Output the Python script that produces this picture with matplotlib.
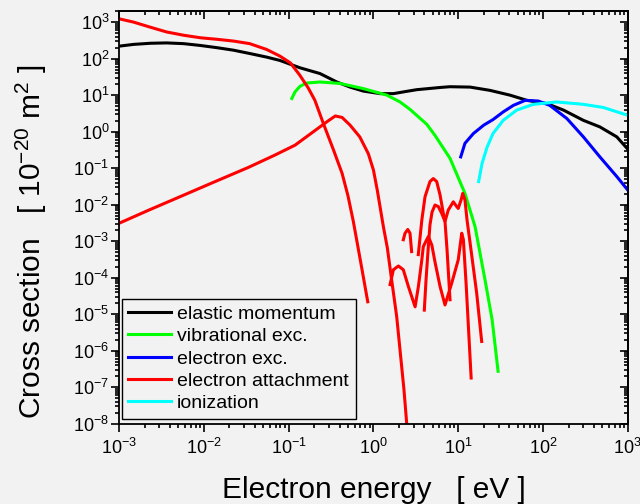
import matplotlib
matplotlib.use('Agg')
import matplotlib.pyplot as plt
from matplotlib.ticker import LogLocator, NullFormatter

plt.rcParams['font.family'] = ['Liberation Sans', 'DejaVu Sans']
plt.rcParams['mathtext.fontset'] = 'custom'
plt.rcParams['mathtext.rm'] = 'Liberation Sans'
plt.rcParams['mathtext.it'] = 'Liberation Sans:italic'
plt.rcParams['mathtext.bf'] = 'Liberation Sans:bold'

# Cross sections in units of 1e-20 m^2 versus electron energy in eV
elastic_E = [1e-3, 1.48e-3, 2.34e-3, 3.63e-3, 5.75e-3, 9.1e-3, 0.0141, 0.0224, 0.0347,
             0.055, 0.079, 0.136, 0.234, 0.37, 0.53, 0.76, 1.2, 1.72, 2.57, 3.24, 6.1,
             8.0, 13.8, 23.7, 40.7, 64.6, 110, 174, 299, 468, 741, 1000]
elastic_sigma = [219, 245, 263, 269, 257, 229, 200, 170, 138,
                 110, 89, 56, 39, 22.9, 16.6, 12.9, 11.0, 11.0, 12.9, 14.1, 16.2,
                 17.0, 16.6, 13.5, 10, 7.2, 5.9, 3.9, 2.04, 1.35, 0.72, 0.33]

vib_E = [0.109, 0.119, 0.136, 0.162, 0.234, 0.404, 0.76, 1.44, 2.06, 2.69, 4.27,
         5.32, 8.0, 12.0, 15.8, 20.7, 25.1, 29.5]
vib_sigma = [8.1, 12.3, 17.4, 21.4, 22.9, 20.9, 15.1, 10, 6.5, 4.1, 1.58,
             0.79, 0.186, 0.0204, 2.5e-3, 8.7e-5, 7.1e-6, 2.75e-7]

exc_E = [10.7, 12.0, 15.1, 20, 25.7, 33.9, 44.7, 61.7, 88, 120, 191, 299, 468, 741, 1000]
exc_sigma = [0.204, 0.48, 0.89, 1.51, 2.14, 3.47, 5.25, 7.2, 6.9, 5.25, 2.29, 0.72,
             0.204, 0.059, 0.025]

ion_E = [17.4, 19.1, 21.9, 25.7, 33.9, 49, 76.9, 145, 299, 513, 1000]
ion_sigma = [0.043, 0.135, 0.38, 0.89, 2.04, 3.9, 5.6, 6.5, 5.6, 4.6, 2.8]

# attachment channels (several separate branches)
att1_E = [1e-3, 1.48e-3, 2.34e-3, 3.63e-3, 5.75e-3, 9.1e-3, 0.0141, 0.0224, 0.0347,
          0.055, 0.079, 0.105, 0.135, 0.17, 0.204, 0.257, 0.339, 0.427, 0.50, 0.579,
          0.705, 0.857]
att1_sigma = [1230, 1000, 724, 537, 437, 372, 339, 302, 257,
              178, 117, 76, 35.5, 15.8, 7.2, 1.66, 0.31, 0.072, 0.0178, 3.5e-3,
              2.8e-4, 2.2e-5]

att2_E = [1e-3, 2.24e-3, 5.5e-3, 0.0135, 0.0335, 0.069, 0.119, 0.195, 0.282, 0.355,
          0.427, 0.53, 0.69, 0.87, 1.0, 1.11, 1.31, 1.46, 1.64, 1.88, 2.29, 2.51]
att2_sigma = [3.1e-3, 7.1e-3, 0.0174, 0.0427, 0.105, 0.229, 0.427, 0.99, 1.86, 2.69,
              2.45, 1.51, 0.72, 0.25, 0.089, 0.025, 2.5e-3, 6.5e-4, 8.7e-5, 8.7e-6,
              8.7e-8, 6.3e-9]

att3_E = [1.57, 1.72, 1.97, 2.25, 2.58, 3.10, 3.39, 3.72, 3.87, 4.44, 4.88, 5.32, 6.10,
          6.98, 8.37, 10.0, 11.0, 11.5, 12.4, 14.2]
att3_sigma = [6.5e-5, 1.66e-4, 2.1e-4, 1.66e-4, 5.8e-5, 1.6e-5, 5.8e-5, 3.1e-4, 7.1e-4,
              1.35e-3, 7.9e-4, 2.7e-4, 5.8e-5, 1.8e-5, 7.1e-5, 3.1e-4, 1.66e-3, 1.1e-3,
              6.5e-5, 1.8e-7]

att4_E = [2.25, 2.36, 2.54, 2.70, 2.82]
att4_sigma = [1.1e-3, 1.66e-3, 2.1e-3, 1.66e-3, 5.2e-4]

att5_E = [3.38, 3.72, 4.06, 4.64, 5.08, 5.57, 6.10, 6.67, 6.98, 7.38, 8.0]
att5_sigma = [4.3e-4, 3.8e-3, 0.0166, 0.043, 0.052, 0.043, 0.0186, 5.8e-3, 3.5e-3,
              5.8e-4, 2.5e-5]

att6_E = [3.98, 4.17, 4.41, 4.64, 4.91, 5.32, 5.82, 6.38, 6.98, 7.64, 8.75, 9.59, 10.0,
          10.8, 11.3, 12.0, 12.7, 13.8, 16.5, 18.9]
att6_sigma = [1.3e-5, 8.7e-5, 5.8e-4, 2.8e-3, 6.3e-3, 9.8e-3, 8.9e-3, 5.8e-3, 3.5e-3,
              7.2e-3, 0.012, 8.9e-3, 7.9e-3, 0.0135, 0.0204, 0.0135, 3.8e-3, 8.9e-4,
              3.8e-5, 1.8e-6]

attachment = [(att1_E, att1_sigma), (att2_E, att2_sigma), (att3_E, att3_sigma),
              (att4_E, att4_sigma), (att5_E, att5_sigma), (att6_E, att6_sigma)]

bg = '#f2f2f2'
lw = 2.2

fig = plt.figure(figsize=(6.4, 5.04), dpi=100, facecolor=bg)
ax = fig.add_axes([0.186, 0.159, 0.795, 0.819], facecolor=bg)

ax.plot(elastic_E, elastic_sigma, color='black', lw=lw, label='elastic momentum')
ax.plot(vib_E, vib_sigma, color='#00ff00', lw=lw, label='vibrational exc.')
ax.plot(exc_E, exc_sigma, color='#0000ff', lw=lw, label='electron exc.')
for i, (e, s) in enumerate(attachment):
    ax.plot(e, s, color='#ff0000', lw=lw, solid_joinstyle='round',
            label='electron attachment' if i == 0 else None)
ax.plot(ion_E, ion_sigma, color='#00ffff', lw=lw, label='ionization')

ax.set_xscale('log')
ax.set_yscale('log')
ax.set_xlim(1e-3, 1e3)
ax.set_ylim(1e-8, 2e3)

for a in (ax.xaxis, ax.yaxis):
    a.set_major_locator(LogLocator(base=10, numticks=20))
    a.set_minor_locator(LogLocator(base=10, subs=range(2, 10), numticks=20))
    a.set_minor_formatter(NullFormatter())

ax.tick_params(which='both', direction='out', width=1.2, labelsize=13)
ax.tick_params(axis='x', pad=4)
ax.tick_params(axis='y', pad=1)
ax.tick_params(which='major', length=6)
ax.tick_params(which='minor', length=3)
for sp in ax.spines.values():
    sp.set_linewidth(1.3)

# inward ticks on the top and right frame
top = ax.secondary_xaxis('top')
right = ax.secondary_yaxis('right')
for sec, a in ((top, top.xaxis), (right, right.yaxis)):
    a.set_major_locator(LogLocator(base=10, numticks=20))
    a.set_minor_locator(LogLocator(base=10, subs=range(2, 10), numticks=20))
    a.set_major_formatter(NullFormatter())
    a.set_minor_formatter(NullFormatter())
    sec.tick_params(which='both', direction='in', width=1.2)
    sec.tick_params(which='major', length=6)
    sec.tick_params(which='minor', length=3)
    for sp in sec.spines.values():
        sp.set_linewidth(1.3)

leg = ax.legend(loc='lower left', bbox_to_anchor=(0.005, 0.012), fontsize=14,
                frameon=True, fancybox=False, edgecolor='black', facecolor=bg,
                framealpha=1, handlelength=2.2, handletextpad=0.3,
                labelspacing=0.24, borderpad=0.35, borderaxespad=0)
leg.get_frame().set_linewidth(1.0)

fig.text(373.5 / 640, 1 - 490 / 504, 'Electron energy   [ eV ]', fontsize=21.5,
         ha='center', va='center')
fig.text(31 / 640, 1 - 242 / 504, r'Cross section   [ 10$^{-20}$ m$^2$ ]', fontsize=21.5,
         ha='center', va='center', rotation=90)

fig.savefig('out.png', dpi=100, facecolor=bg)
